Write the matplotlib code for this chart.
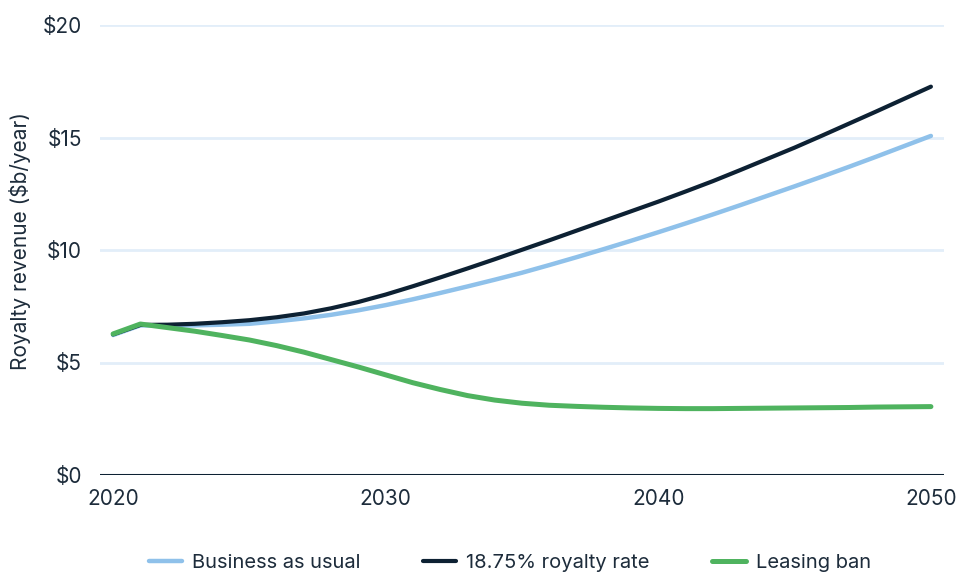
import matplotlib
matplotlib.use("Agg")
import matplotlib.pyplot as plt

years = list(range(2020, 2051))

business_as_usual = [6.22, 6.65, 6.64, 6.65, 6.68, 6.72, 6.83, 6.96, 7.12, 7.32,
                     7.55, 7.81, 8.09, 8.38, 8.68, 8.99, 9.33, 9.68, 10.04, 10.41,
                     10.79, 11.18, 11.58, 11.99, 12.41, 12.83, 13.26, 13.70, 14.15, 14.61,
                     15.07]

royalty_rate = [6.25, 6.67, 6.68, 6.72, 6.79, 6.88, 7.01, 7.18, 7.41, 7.69,
                8.02, 8.39, 8.78, 9.18, 9.59, 10.01, 10.43, 10.86, 11.29, 11.72,
                12.15, 12.60, 13.06, 13.55, 14.05, 14.55, 15.08, 15.62, 16.16, 16.71,
                17.26]

leasing_ban = [6.27, 6.71, 6.55, 6.39, 6.20, 6.00, 5.75, 5.46, 5.13, 4.80,
               4.45, 4.10, 3.80, 3.53, 3.33, 3.19, 3.10, 3.05, 3.01, 2.98,
               2.96, 2.95, 2.95, 2.96, 2.97, 2.98, 2.99, 3.00, 3.02, 3.03,
               3.04]

y_ticks = [0, 5, 10, 15, 20]
y_tick_labels = ["$0", "$5", "$10", "$15", "$20"]
x_ticks = [2020, 2030, 2040, 2050]

navy = "#0d2133"
light_blue = "#8fc1ea"
green = "#4fb35f"
grid_col = "#e2eef9"
text_col = "#1d2c3b"

plt.rcParams["font.family"] = ["Inter", "DejaVu Sans"]

fig = plt.figure(figsize=(9.6, 5.77), dpi=100)
ax = fig.add_axes([100 / 960, 1 - 475 / 577, 844 / 960, 450 / 577])

for v in y_ticks[1:]:
    ax.axhline(v, color=grid_col, lw=2, zorder=1)
ax.axhline(0, color=navy, lw=2.2, zorder=2)

ax.plot(years, business_as_usual, color=light_blue, lw=3.2, solid_capstyle="round",
        label="Business as usual", zorder=3, clip_on=False)
ax.plot(years, royalty_rate, color=navy, lw=3.0, solid_capstyle="round",
        label="18.75% royalty rate", zorder=4, clip_on=False)
ax.plot(years, leasing_ban, color=green, lw=3.6, solid_capstyle="round",
        label="Leasing ban", zorder=5, clip_on=False)

ax.set_xlim(2019.52, 2050.48)
ax.set_ylim(0, 20)
ax.set_xticks(x_ticks)
ax.set_yticks(y_ticks)
ax.set_yticklabels(y_tick_labels)
ax.tick_params(axis="both", length=0, labelsize=15, colors=text_col)
ax.tick_params(axis="x", pad=10)
ax.tick_params(axis="y", pad=13)
for s in ax.spines.values():
    s.set_visible(False)

ax.set_ylabel("Royalty revenue ($b/year)", fontsize=15, color=text_col)
ax.yaxis.set_label_coords(-0.082, 0.52)

fig.legend(loc="center", bbox_to_anchor=(0.531, 0.024), ncol=3, frameon=False,
           fontsize=14.5, handlelength=1.65, handletextpad=0.5, columnspacing=3.1,
           labelcolor=text_col)

fig.savefig("out.png", dpi=100)
